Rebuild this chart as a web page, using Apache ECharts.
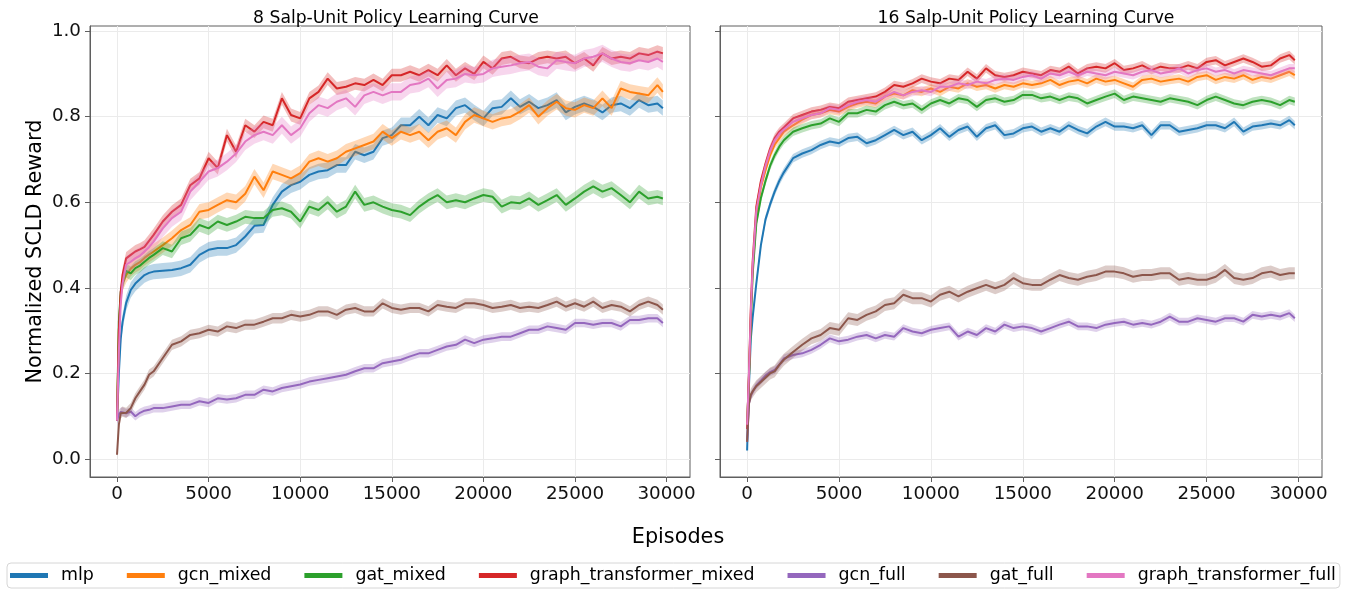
<!DOCTYPE html>
<html>
<head>
<meta charset="utf-8">
<script src="https://cdn.jsdelivr.net/npm/echarts/dist/echarts.min.js"></script>
<style>
html,body{margin:0;padding:0;background:#fff;}
#chart{width:1350px;height:596px;}
</style>
</head>
<body>
<div id="chart"></div>
<script>
// ---------- DATA ----------
const episodes = [0,100,200,300,500,750,1000,1250,1500,1750,2000,
  2500,3000,3500,4000,4500,5000,5500,6000,6500,7000,7500,8000,8500,9000,9500,
  10000,10500,11000,11500,12000,12500,13000,13500,14000,14500,15000,
  15500,16000,16500,17000,17500,18000,18500,19000,19500,20000,
  20500,21000,21500,22000,22500,23000,23500,24000,24500,25000,
  25500,26000,26500,27000,27500,28000,28500,29000,29500,29800];

const seriesNames = ['mlp','gcn_mixed','gat_mixed','graph_transformer_mixed','gcn_full','gat_full','graph_transformer_full'];
const panelTitles = ['8 Salp-Unit Policy Learning Curve','16 Salp-Unit Policy Learning Curve'];
const xTicks = [0,5000,10000,15000,20000,25000,30000];
const yTicks = [0,0.2,0.4,0.6,0.8,1.0];

// ---- 8 salp-unit panel ----
const mlp8 = [0.09,0.20,0.28,0.32,0.365,0.395,0.41,0.42,0.43,0.435,0.438,
  0.440,0.442,0.446,0.454,0.477, 0.489,0.493,0.493,0.500,0.520, 0.545,0.547,0.594,0.625,0.640,
  0.648,0.664,0.672,0.675,0.687, 0.687,0.718,0.710,0.718,0.750, 0.757,
  0.780,0.780,0.800,0.780,0.804,0.796,0.820,0.827,0.810,0.796,
  0.820,0.823,0.843,0.823,0.835,0.820,0.827,0.839,0.810,0.823,
  0.831,0.823,0.810,0.827,0.831,0.820,0.839,0.827,0.831,0.820];
const gcnMixed8 = [0.09,0.30,0.38,0.41,0.43,0.445,0.454,0.46,0.47,0.478,0.485,
  0.500,0.516,0.535,0.547,0.578, 0.582,0.594,0.605,0.600,0.620, 0.660,0.628,0.672,0.664,0.656,
  0.668,0.695,0.703,0.695,0.703, 0.718,0.726,0.734,0.742,0.765, 0.750,
  0.765,0.757,0.765,0.745,0.765,0.773,0.757,0.788,0.804,0.796,
  0.788,0.796,0.800,0.812,0.827,0.800,0.820,0.835,0.820,0.816,
  0.827,0.820,0.843,0.820,0.866,0.858,0.854,0.850,0.874,0.858];
const gatMixed8 = [0.10,0.32,0.39,0.41,0.44,0.434,0.446,0.452,0.461,0.470,0.477,
  0.493,0.485,0.516,0.524,0.547, 0.539,0.555,0.547,0.555,0.566, 0.563,0.563,0.582,0.586,0.578,
  0.555,0.590,0.582,0.600,0.578, 0.590,0.625,0.594,0.600,0.590, 0.582,
  0.578,0.570,0.590,0.605,0.617,0.600,0.605,0.600,0.609,0.617,
  0.613,0.590,0.600,0.598,0.609,0.594,0.605,0.617,0.594,0.609,
  0.625,0.637,0.625,0.633,0.617,0.600,0.625,0.609,0.613,0.609];
const gtMixed8 = [0.09,0.30,0.39,0.43,0.469,0.477,0.485,0.490,0.496,0.510,0.524,
  0.555,0.578,0.594,0.640,0.656, 0.703,0.680,0.757,0.718,0.780, 0.765,0.788,0.780,0.843,0.804,
  0.796,0.843,0.858,0.889,0.866, 0.870,0.878,0.874,0.886,0.874, 0.897,
  0.897,0.905,0.897,0.909,0.897,0.920,0.897,0.913,0.900,0.928,
  0.913,0.936,0.940,0.928,0.925,0.936,0.940,0.936,0.940,0.925,
  0.936,0.920,0.948,0.936,0.940,0.936,0.948,0.944,0.952,0.948];
const gcnFull8 = [0.09,0.105,0.110,0.111,0.107,0.111,0.100,0.108,0.113,0.115,0.119,
  0.119,0.123,0.127,0.127,0.135, 0.131,0.142,0.139,0.142,0.150, 0.150,0.162,0.158,0.166,0.170,
  0.174,0.181,0.185,0.189,0.193, 0.197,0.205,0.212,0.212,0.224, 0.228,
  0.232,0.240,0.247,0.247,0.255,0.263,0.267,0.279,0.271,0.279,
  0.282,0.286,0.286,0.294,0.302,0.302,0.310,0.306,0.302,0.318,
  0.318,0.314,0.318,0.318,0.310,0.325,0.325,0.329,0.329,0.318];
const gatFull8 = [0.01,0.08,0.107,0.111,0.108,0.119,0.142,0.158,0.174,0.197,0.205,
  0.236,0.267,0.275,0.290,0.294, 0.302,0.298,0.310,0.306,0.314, 0.314,0.321,0.329,0.329,0.337,
  0.333,0.337,0.345,0.345,0.337, 0.349,0.353,0.345,0.345,0.364, 0.353,
  0.349,0.353,0.353,0.345,0.360,0.356,0.353,0.364,0.364,0.360,
  0.353,0.356,0.360,0.353,0.356,0.353,0.360,0.368,0.356,0.364,
  0.356,0.368,0.353,0.360,0.356,0.345,0.360,0.368,0.360,0.349];
const gtFull8 = [0.09,0.25,0.36,0.41,0.454,0.461,0.469,0.475,0.485,0.495,0.508,
  0.539,0.563,0.578,0.625,0.648, 0.672,0.680,0.695,0.714,0.742, 0.757,0.765,0.757,0.780,0.757,
  0.773,0.808,0.827,0.820,0.835, 0.843,0.823,0.850,0.858,0.850, 0.858,
  0.858,0.874,0.878,0.889,0.866,0.886,0.889,0.900,0.897,0.900,
  0.913,0.917,0.920,0.925,0.928,0.917,0.913,0.932,0.928,0.925,
  0.936,0.940,0.948,0.936,0.928,0.925,0.932,0.928,0.936,0.928];
const spread8 = [0.018,0.018,0.016,0.015,0.010,0.012,0.020];

// ---- 16 salp-unit panel ----
const mlp16 = [0.02,0.17,0.28,0.33,0.41,0.50,0.56,0.595,0.625,0.65,0.67,
  0.703,0.714,0.722,0.734,0.742, 0.738,0.750,0.753,0.738,0.745, 0.757,0.769,0.757,0.765,0.745,
  0.757,0.773,0.753,0.769,0.777, 0.753,0.773,0.780,0.757,0.761, 0.773,
  0.777,0.765,0.773,0.765,0.780,0.769,0.761,0.777,0.788,0.777,
  0.777,0.773,0.780,0.757,0.780,0.780,0.765,0.769,0.773,0.780,
  0.780,0.773,0.788,0.765,0.777,0.780,0.784,0.780,0.792,0.780];
const gcnMixed16 = [0.08,0.19,0.33,0.44,0.57,0.635,0.675,0.71,0.735,0.75,0.765,
  0.780,0.793,0.804,0.808,0.816, 0.812,0.823,0.831,0.835,0.831, 0.847,0.854,0.850,0.862,0.858,
  0.866,0.858,0.870,0.866,0.878, 0.870,0.874,0.866,0.874,0.870, 0.878,
  0.874,0.878,0.886,0.874,0.882,0.886,0.878,0.889,0.882,0.886,
  0.878,0.870,0.886,0.889,0.882,0.886,0.889,0.882,0.893,0.897,
  0.886,0.893,0.889,0.897,0.886,0.893,0.889,0.897,0.905,0.897];
const gatMixed16 = [0.08,0.19,0.32,0.43,0.55,0.61,0.65,0.685,0.71,0.73,0.745,
  0.765,0.773,0.780,0.784,0.796, 0.788,0.808,0.808,0.816,0.812, 0.827,0.835,0.827,0.831,0.816,
  0.831,0.839,0.831,0.843,0.839, 0.823,0.839,0.843,0.835,0.839, 0.851,
  0.851,0.843,0.847,0.839,0.847,0.843,0.831,0.839,0.847,0.854,
  0.839,0.847,0.843,0.839,0.835,0.843,0.839,0.835,0.827,0.839,
  0.847,0.839,0.831,0.827,0.835,0.839,0.835,0.827,0.839,0.835];
const gtMixed16 = [0.07,0.20,0.35,0.46,0.59,0.65,0.69,0.725,0.75,0.765,0.775,
  0.796,0.804,0.812,0.816,0.823, 0.820,0.835,0.839,0.843,0.847, 0.858,0.874,0.870,0.878,0.889,
  0.882,0.878,0.889,0.886,0.905, 0.889,0.913,0.897,0.893,0.897, 0.905,
  0.901,0.897,0.909,0.905,0.917,0.901,0.913,0.917,0.913,0.925,
  0.909,0.913,0.920,0.909,0.917,0.913,0.913,0.920,0.913,0.928,
  0.932,0.920,0.928,0.936,0.928,0.917,0.920,0.936,0.944,0.932];
const gcnFull16 = [0.04,0.13,0.148,0.157,0.172,0.183,0.195,0.203,0.208,0.220,0.235,
  0.243,0.247,0.255,0.267,0.282, 0.275,0.279,0.286,0.290,0.282, 0.290,0.286,0.306,0.298,0.294,
  0.302,0.306,0.310,0.286,0.298, 0.290,0.306,0.298,0.314,0.306, 0.310,
  0.306,0.298,0.306,0.314,0.321,0.310,0.310,0.306,0.314,0.318,
  0.321,0.314,0.318,0.314,0.321,0.333,0.321,0.321,0.329,0.325,
  0.321,0.329,0.329,0.321,0.337,0.333,0.337,0.333,0.341,0.329];
const gatFull16 = [0.04,0.13,0.15,0.158,0.170,0.180,0.190,0.200,0.205,0.220,0.232,
  0.250,0.267,0.282,0.290,0.306, 0.302,0.329,0.325,0.337,0.345, 0.360,0.364,0.384,0.376,0.376,
  0.368,0.384,0.391,0.380,0.391, 0.399,0.407,0.399,0.407,0.423, 0.411,
  0.407,0.407,0.419,0.430,0.423,0.419,0.426,0.430,0.438,0.438,
  0.434,0.426,0.430,0.430,0.434,0.434,0.419,0.423,0.419,0.419,
  0.426,0.442,0.423,0.419,0.423,0.434,0.438,0.430,0.434,0.434];
const gtFull16 = [0.08,0.20,0.34,0.45,0.58,0.64,0.685,0.72,0.745,0.76,0.77,
  0.788,0.796,0.804,0.808,0.820, 0.816,0.827,0.835,0.839,0.835, 0.847,0.858,0.850,0.858,0.862,
  0.858,0.870,0.870,0.878,0.874, 0.882,0.878,0.886,0.889,0.886, 0.893,
  0.897,0.889,0.901,0.897,0.905,0.897,0.905,0.901,0.897,0.905,
  0.901,0.897,0.905,0.909,0.901,0.905,0.913,0.901,0.909,0.913,
  0.905,0.909,0.901,0.909,0.905,0.901,0.897,0.905,0.913,0.913];
const spread16 = [0.010,0.010,0.010,0.010,0.009,0.014,0.010];

// ---------- STYLE ----------
const colors = ['#1f77b4','#ff7f0e','#2ca02c','#d62728','#9467bd','#8c564b','#e377c2'];
const FONT = 'DejaVu Sans';
const spineColor = '#5f5f5f';

function hexA(hex, a){
  const n = parseInt(hex.slice(1),16);
  return 'rgba(' + ((n>>16)&255) + ',' + ((n>>8)&255) + ',' + (n&255) + ',' + a + ')';
}

const panels = [
  {lines:[mlp8,gcnMixed8,gatMixed8,gtMixed8,gcnFull8,gatFull8,gtFull8], spread: spread8},
  {lines:[mlp16,gcnMixed16,gatMixed16,gtMixed16,gcnFull16,gatFull16,gtFull16], spread: spread16}
];

const series = [];
panels.forEach((p, pi) => {
  p.lines.forEach((arr, i) => {
    const s = p.spread[i];
    const rows = arr.map((v,j)=>[episodes[j], v - s, v + s]);
    const fill = hexA(colors[i], 0.3);
    series.push({
      type:'custom', coordinateSystem:'cartesian2d', xAxisIndex:pi, yAxisIndex:pi,
      data: rows, encode:{x:0, y:[1,2]}, silent:true, clip:true, z: 2 + i*2, animation:false,
      renderItem: function(params, api){
        if (params.dataIndex !== 0) return null;
        const pts = [];
        for (let j = 0; j < rows.length; j++) pts.push(api.coord([rows[j][0], rows[j][1]]));
        for (let j = rows.length - 1; j >= 0; j--) pts.push(api.coord([rows[j][0], rows[j][2]]));
        return {type:'polygon', shape:{points:pts}, style:{fill: fill, stroke: null}};
      }
    });
    series.push({
      name: seriesNames[i], type:'line', xAxisIndex:pi, yAxisIndex:pi,
      data: arr.map((v,j)=>[episodes[j], v]),
      symbol:'none', lineStyle:{width:2, color: colors[i]}, itemStyle:{color: colors[i]},
      z: 3 + i*2, animation:false
    });
  });
});

const gridDefs = [{left:90, top:26, width:600, height:451},{left:720, top:26, width:602, height:451}];

function xAxisDef(gi){
  return {
    type:'value', gridIndex:gi, min:-1475, max:31280,
    axisLine:{show:true, onZero:false, lineStyle:{color:spineColor, width:1}},
    axisTick:{show:true, length:5, customValues:xTicks, lineStyle:{color:spineColor}},
    axisLabel:{customValues:xTicks, fontSize:18.3, color:'#111', fontFamily:FONT, margin:8,
      formatter: v => String(Math.round(v))},
    splitLine:{show:true, lineStyle:{color:'#ebebeb', width:1}}
  };
}
function yAxisDef(gi){
  return {
    type:'value', gridIndex:gi, min:-0.042, max:1.012,
    axisLine:{show:true, onZero:false, lineStyle:{color:spineColor, width:1}},
    axisTick:{show:true, length:5, customValues:yTicks, lineStyle:{color:spineColor}},
    axisLabel:{show: gi===0, customValues:yTicks, fontSize:18.3, color:'#111', fontFamily:FONT, margin:9,
      formatter: v => Number(v).toFixed(1)},
    splitLine:{show:true, lineStyle:{color:'#ebebeb', width:1}},
    name: gi===0 ? 'Normalized SCLD Reward' : '',
    nameLocation:'middle', nameGap:44,
    nameTextStyle:{fontSize:20.8, color:'#000', fontFamily:FONT}
  };
}

const chart = echarts.init(document.getElementById('chart'), null, {renderer:'canvas'});
chart.setOption({
  backgroundColor:'#fff',
  animation:false,
  title:[
    {text:panelTitles[0], left:391, top:5, textAlign:'center', textStyle:{fontSize:17.2, fontWeight:'normal', color:'#000', fontFamily:FONT}},
    {text:panelTitles[1], left:1021, top:5, textAlign:'center', textStyle:{fontSize:17.2, fontWeight:'normal', color:'#000', fontFamily:FONT}},
    {text:'Episodes', left:673, top:522, textAlign:'center', textStyle:{fontSize:20.8, fontWeight:'normal', color:'#000', fontFamily:FONT}}
  ],
  grid: gridDefs.map(g => Object.assign({show:true, borderColor:spineColor, borderWidth:1, backgroundColor:'transparent'}, g)),
  xAxis:[xAxisDef(0), xAxisDef(1)],
  yAxis:[yAxisDef(0), yAxisDef(1)],
  legend:{
    data: seriesNames, left:7, top:563, orient:'horizontal', icon:'rect',
    itemWidth:38, itemHeight:5, itemGap:33, selectedMode:false,
    padding:[4,4,4,3], borderColor:'#d6d6d6', borderWidth:1, borderRadius:4,
    textStyle:{fontSize:17.4, color:'#000', fontFamily:FONT, padding:[0,0,0,8]}
  },
  series: series
});
</script>
</body>
</html>
